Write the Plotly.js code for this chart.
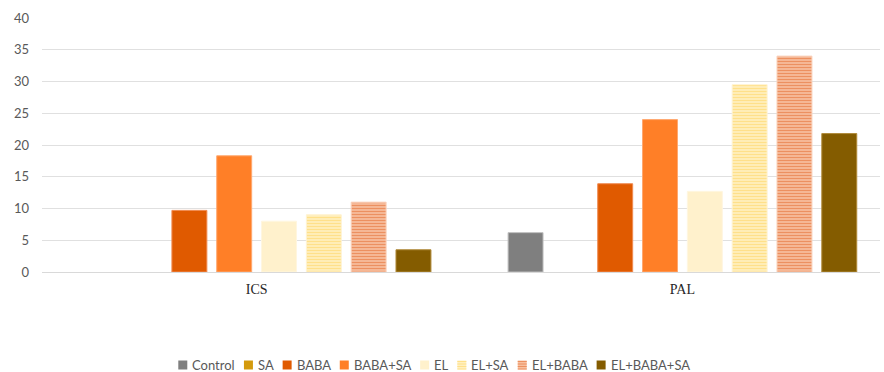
<!DOCTYPE html>
<html>
<head>
<meta charset="utf-8">
<script src="https://cdn.plot.ly/plotly-3.0.1.min.js"></script>
<style>
  html, body { margin: 0; padding: 0; background: #ffffff; }
  #chart { width: 884px; height: 372px; }
</style>
</head>
<body>
<div id="chart"></div>
<script>
// Sites on the x axis
const sites = ['ICS', 'PAL'];

// Treatment series (values per site)
const control   = [0, 6.2];
const sa        = [0, 0];
const baba      = [9.7, 13.9];
const babaSa    = [18.3, 24.0];
const el        = [8.0, 12.7];
const elSa      = [9.0, 29.5];
const elBaba    = [11.0, 34.0];
const elBabaSa  = [3.5, 21.8];

const seriesNames = ['Control', 'SA', 'BABA', 'BABA+SA', 'EL', 'EL+SA', 'EL+BABA', 'EL+BABA+SA'];
const seriesValues = [control, sa, baba, babaSa, el, elSa, elBaba, elBabaSa];

// Fill, outline and optional stripe styling for each treatment
const styles = [
  { color: '#7f7f7f', line: '#bfbfbf' },
  { color: '#d49a0c', line: '#e6c06a' },
  { color: '#e05a00', line: '#f08a50' },
  { color: '#ff7f27', line: '#ffa870' },
  { color: '#fff1cc', line: '#fff6df' },
  { color: '#fff0c0', line: '#fff3d2', stripe: '#ffe08a' },
  { color: '#f7c0a0', line: '#fad2bc', stripe: '#ec9060' },
  { color: '#845c00', line: '#b08a3a' }
];

const traces = seriesNames.map((name, i) => {
  const s = styles[i];
  const vals = seriesValues[i];
  const marker = {
    color: s.color,
    // no outline on empty (zero) bars
    line: { color: s.line, width: vals.map(v => (v > 0 ? 1 : 0)) }
  };
  if (s.stripe) {
    marker.pattern = {
      shape: '-',
      fgcolor: s.stripe,
      bgcolor: s.color,
      size: 3,
      solidity: 0.45,
      fillmode: 'replace'
    };
  }
  return {
    type: 'bar',
    name: name,
    x: sites,
    y: vals,
    marker: marker,
    showlegend: false,
    hoverinfo: 'x+y+name'
  };
});

// ---- Figure geometry ----
const W = 884, H = 372;
const M = { l: 42, r: 4, t: 18, b: 100 };
const plotW = W - M.l - M.r;
const plotH = H - M.t - M.b;

// ---- Compact legend below the plot, built from the series names/styles ----
const legendFont = { family: 'Lato, "Liberation Sans", sans-serif', size: 13, color: '#595959' };
const measure = (() => {
  const ctx = document.createElement('canvas').getContext('2d');
  ctx.font = legendFont.size + 'px Lato, "Liberation Sans", sans-serif';
  return t => ctx.measureText(t).width;
})();

const swatch = 9, swatchGap = 3, itemGap = 11;
const itemWidths = seriesNames.map(n => swatch + swatchGap + measure(n));
const totalW = itemWidths.reduce((a, b) => a + b, 0) + itemGap * (seriesNames.length - 1);
const legendCenterPx = 433, legendMidYPx = 365;

const px2x = px => (px - M.l) / plotW;
const px2y = py => (M.t + plotH - py) / plotH;

const shapes = [];
const annotations = [];
let cursor = legendCenterPx - totalW / 2;
seriesNames.forEach((name, i) => {
  const s = styles[i];
  const x0 = cursor, x1 = cursor + swatch;
  const y0 = legendMidYPx - swatch / 2, y1 = legendMidYPx + swatch / 2;
  shapes.push({
    type: 'rect', xref: 'paper', yref: 'paper',
    x0: px2x(x0), x1: px2x(x1), y0: px2y(y1), y1: px2y(y0),
    fillcolor: s.color, line: { width: 0 }
  });
  if (s.stripe) {
    for (let yy = y0 + 1; yy < y1; yy += 2.5) {
      shapes.push({
        type: 'line', xref: 'paper', yref: 'paper',
        x0: px2x(x0), x1: px2x(x1), y0: px2y(yy), y1: px2y(yy),
        line: { color: s.stripe, width: 1 }
      });
    }
  }
  annotations.push({
    xref: 'paper', yref: 'paper',
    x: px2x(x1 + swatchGap), y: px2y(legendMidYPx),
    xanchor: 'left', yanchor: 'middle',
    text: name, showarrow: false,
    font: legendFont
  });
  cursor += itemWidths[i] + itemGap;
});

const layout = {
  width: W,
  height: H,
  margin: { l: M.l, r: M.r, t: M.t, b: M.b, autoexpand: false },
  paper_bgcolor: '#ffffff',
  plot_bgcolor: '#ffffff',
  barmode: 'group',
  bargap: 0.158,
  bargroupgap: 0.22,
  font: legendFont,
  showlegend: false,
  xaxis: {
    type: 'category',
    range: [-0.504, 1.464],
    showgrid: false,
    showline: true,
    linecolor: '#d9d9d9',
    linewidth: 1,
    ticks: '',
    ticklabelstandoff: 4,
    tickfont: { family: '"Liberation Serif", "Times New Roman", serif', size: 14, color: '#262626' }
  },
  yaxis: {
    range: [0, 40],
    dtick: 5,
    tick0: 0,
    showgrid: true,
    gridcolor: '#e0e0e0',
    gridwidth: 1,
    zeroline: false,
    showline: false,
    ticks: '',
    ticklabelstandoff: 12,
    tickfont: { family: 'Lato, "Liberation Sans", sans-serif', size: 13, color: '#595959' }
  },
  shapes: shapes,
  annotations: annotations
};

Plotly.newPlot('chart', traces, layout, { displayModeBar: false, staticPlot: true });
</script>
</body>
</html>
